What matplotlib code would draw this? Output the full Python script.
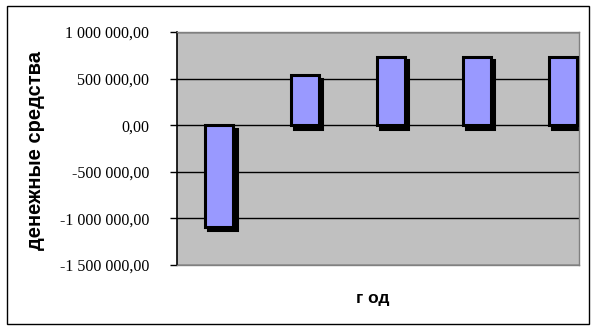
import numpy as np
import matplotlib
matplotlib.use('Agg')
import matplotlib.pyplot as plt
import matplotlib.transforms as mtrans
from matplotlib.patches import Rectangle

# data
years = [1, 2, 3, 4, 5]
cash = [-1090000, 535000, 730000, 730000, 730000]
yticks = [-1500000, -1000000, -500000, 0, 500000, 1000000]
ytick_labels = ['-1 500 000,00', '-1 000 000,00', '-500 000,00', '0,00',
                '500 000,00', '1 000 000,00']

fig = plt.figure(figsize=(5.97, 3.30), dpi=100)
fig.patch.set_facecolor('white')
# outer chart border
fig.add_artist(Rectangle((7/597, 6/330), 582/597, 318/330, transform=fig.transFigure,
                         fill=False, edgecolor='black', linewidth=1.0))

ax = fig.add_axes([177/597, 65/330, 402/597, 233/330])
ax.set_facecolor('#C0C0C0')

x = np.arange(len(years))
w = 0.33
# shadow first, shifted right/down
shadow = ax.bar(x, cash, w, color='black', edgecolor='black', linewidth=2.2, zorder=2)
off = mtrans.ScaledTranslation(2.4/72, -2.4/72, fig.dpi_scale_trans)
for p in shadow:
	p.set_transform(ax.transData + off)
ax.bar(x, cash, w, color='#9999FF', edgecolor='black', linewidth=2.2, zorder=3)

ax.set_xlim(-0.49, 4.19)
ax.set_ylim(-1500000, 1000000)
ax.set_yticks(yticks)
ax.set_yticklabels(ytick_labels, fontfamily='Liberation Serif', fontsize=11.5)
ax.tick_params(axis='y', length=5, width=1, direction='out', pad=15)
ax.set_xticks([])
ax.yaxis.grid(True, color='black', linewidth=1.0, zorder=1)
ax.set_axisbelow(True)

for s in ['top', 'right', 'bottom']:
	ax.spines[s].set_color('#808080')
	ax.spines[s].set_linewidth(1.0)
ax.spines['left'].set_color('black')
ax.spines['left'].set_linewidth(1.2)

fig.text(36/597, 1-151/330, 'денежные средства', rotation=90, ha='center', va='center',
         fontfamily='Liberation Sans', fontweight='bold', fontsize=14.5)
fig.text(373/597, 1-298/330, 'г од', ha='center', va='center',
         fontfamily='Liberation Sans', fontweight='bold', fontsize=12.5)

plt.savefig('out.png', dpi=100)
